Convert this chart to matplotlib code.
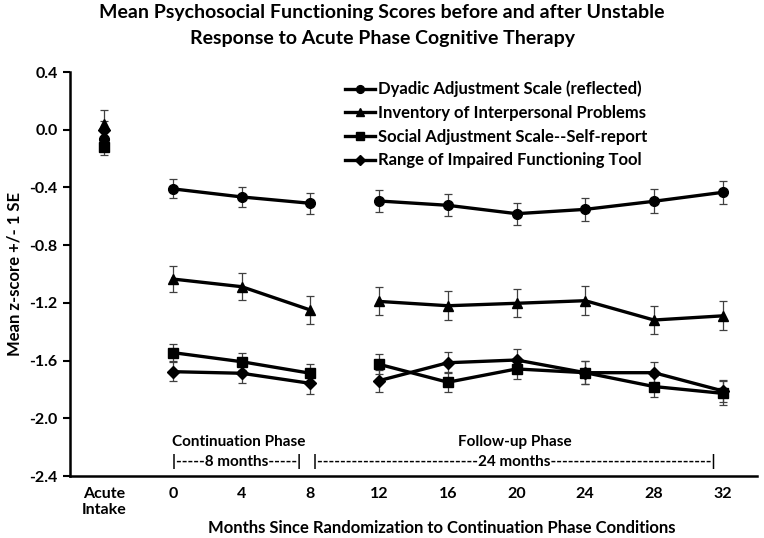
import numpy as np
import matplotlib
matplotlib.use("Agg")
import matplotlib.pyplot as plt
from matplotlib.lines import Line2D

plt.rcParams['font.family'] = ['Lato', 'DejaVu Sans']
plt.rcParams['font.weight'] = 'bold'

categories = ['Acute\nIntake', '0', '4', '8', '12', '16', '20', '24', '28', '32']

series_names = ['Dyadic Adjustment Scale (reflected)',
                'Inventory of Interpersonal Problems',
                'Social Adjustment Scale--Self-report',
                'Range of Impaired Functioning Tool']

dyadic = [-0.065, -0.41, -0.466, -0.51, -0.494, -0.524, -0.582, -0.552, -0.496, -0.434]
dyadic_se = [0.07, 0.066, 0.072, 0.074, 0.077, 0.077, 0.077, 0.08, 0.083, 0.082]
iip = [0.04, -1.035, -1.088, -1.25, -1.19, -1.22, -1.203, -1.185, -1.319, -1.29]
iip_se = [0.1, 0.087, 0.092, 0.095, 0.097, 0.099, 0.098, 0.1, 0.1, 0.1]
sas = [-0.122, -1.545, -1.608, -1.688, -1.626, -1.75, -1.658, -1.684, -1.78, -1.827]
sas_se = [0.055, 0.06, 0.06, 0.065, 0.069, 0.07, 0.07, 0.078, 0.074, 0.083]
rift = [0.0, -1.677, -1.688, -1.758, -1.739, -1.615, -1.596, -1.684, -1.684, -1.81]
rift_se = [0.06, 0.065, 0.07, 0.075, 0.077, 0.072, 0.076, 0.078, 0.077, 0.077]

yticks = [0.4, 0.0, -0.4, -0.8, -1.2, -1.6, -2.0, -2.4]

values = [dyadic, iip, sas, rift]
errors = [dyadic_se, iip_se, sas_se, rift_se]
markers = ['o', '^', 's', 'D']
msizes = [7, 7.5, 6.5, 6.5]

segments = [[0], [1, 2, 3], [4, 5, 6, 7, 8, 9]]

fig = plt.figure(figsize=(7.64, 5.38), dpi=100)
ax = fig.add_axes([70/764, 1-476/538, (757-70)/764, (476-72)/538])

x = np.arange(len(categories))
for vals, errs, mk, ms in zip(values, errors, markers, msizes):
    v = np.array(vals)
    e = np.array(errs)
    ax.errorbar(x, v, yerr=e, fmt='none', ecolor='#404040', elinewidth=0.9,
                capsize=3.2, capthick=0.9, zorder=2)
    for seg in segments:
        ax.plot(x[seg], v[seg], color='black', lw=2.4, marker=mk, ms=ms,
                markerfacecolor='black', markeredgecolor='black', zorder=3)

ax.set_xlim(-0.5, len(categories) - 0.5)
ax.set_ylim(-2.4, 0.4)
ax.set_yticks(yticks)
ax.set_yticklabels([f'{t:.1f}' for t in yticks])
ax.set_xticks(x)
ax.set_xticklabels(categories)
ax.tick_params(axis='x', length=0, pad=8, labelsize=11.5)
ax.tick_params(axis='y', length=5, width=1.5, direction='out', pad=4, labelsize=11.5)
for s in ['top', 'right']:
    ax.spines[s].set_visible(False)
for s in ['left', 'bottom']:
    ax.spines[s].set_linewidth(1.8)

ax.set_ylabel('Mean z-score +/- 1 SE', fontsize=12, fontweight='bold', labelpad=5)
ax.set_xlabel('Months Since Randomization to Continuation Phase Conditions',
              fontsize=12, fontweight='bold', labelpad=3)
ax.xaxis.set_label_coords((442 - 70) / 687, -0.11)

handles = [Line2D([0], [0], color='black', lw=2.4, marker=mk, ms=ms * 0.8)
           for mk, ms in zip(markers, msizes)]
ax.legend(handles, series_names, loc='upper left', bbox_to_anchor=(0.40, 0.978),
          frameon=False, fontsize=12, handlelength=1.8, handletextpad=0.2,
          labelspacing=0.46, borderpad=0, borderaxespad=0)

ax.text(1.95, -2.162, 'Continuation Phase', ha='center', va='center', fontsize=11,
        fontweight='bold')
ax.text(5.97, -2.162, 'Follow-up Phase', ha='center', va='center', fontsize=11,
        fontweight='bold')

# fit dash counts so each bracket spans its phase
fig.canvas.draw()
renderer = fig.canvas.get_renderer()
px_per_unit = ax.transData.transform((1, 0))[0] - ax.transData.transform((0, 0))[0]


def bracket(x0, x1, label, y):
    target = (x1 - x0) * px_per_unit
    best = None
    for n in range(1, 60):
        t = ax.text(x0, y, '|' + '-' * n + label + '-' * n + '|', ha='left',
                    va='center', fontsize=11, fontweight='bold')
        w = t.get_window_extent(renderer).width
        t.remove()
        if best is None or abs(w - target) < best[0]:
            best = (abs(w - target), n)
    n = best[1]
    ax.text(x0, y, '|' + '-' * n + label + '-' * n + '|', ha='left',
            va='center', fontsize=11, fontweight='bold')


bracket(0.99, 2.92, '8 months', -2.30)
bracket(3.04, 8.98, '24 months', -2.30)

fig.text(0.5, 0.992, 'Mean Psychosocial Functioning Scores before and after Unstable\n'
         'Response to Acute Phase Cognitive Therapy', ha='center', va='top',
         fontsize=14, fontweight='bold', linespacing=1.62)

fig.savefig('out.png', dpi=100)
